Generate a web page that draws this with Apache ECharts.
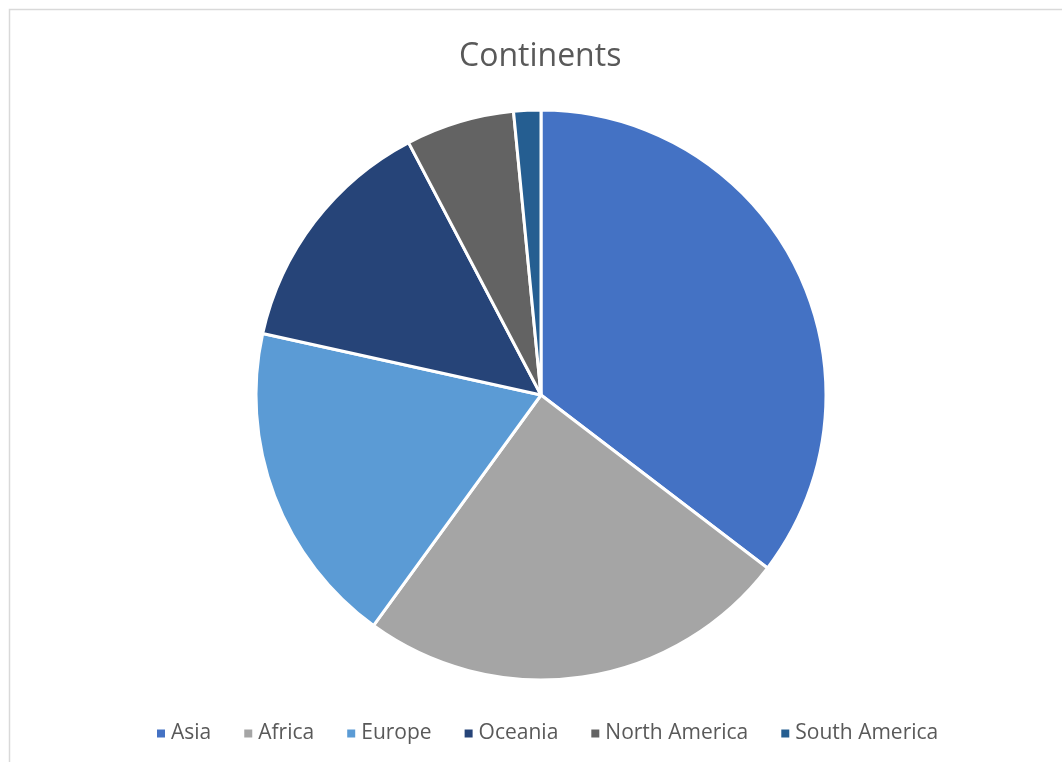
<!DOCTYPE html>
<html>
<head>
<meta charset="utf-8">
<script src="https://cdn.jsdelivr.net/npm/echarts@6/dist/echarts.min.js"></script>
<style>
html,body{margin:0;padding:0;background:#fff;}
#c{width:1062px;height:762px;}
</style>
</head>
<body>
<div id="c"></div>
<script>
var categories = ['Asia', 'Africa', 'Europe', 'Oceania', 'North America', 'South America'];
var values = [23, 16, 12, 9, 4, 1];
var colors = ['#4472C4', '#A5A5A5', '#5B9BD5', '#264478', '#636363', '#255E91'];

var chart = echarts.init(document.getElementById('c'));
chart.setOption({
  animation: false,
  backgroundColor: '#fff',
  title: {
    text: 'Continents',
    left: 459,
    top: 41,
    padding: 0,
    textStyle: {fontFamily: 'Open Sans', fontSize: 32, fontWeight: 'normal', color: '#595959'}
  },
  legend: {
    bottom: 18,
    left: 155,
    padding: 0,
    itemWidth: 10,
    itemHeight: 10,
    itemGap: 31,
    icon: 'rect',
    textStyle: {fontFamily: 'Open Sans', fontSize: 21, color: '#595959'},
    data: categories
  },
  graphic: [{
    type: 'rect',
    shape: {x: 9.5, y: 9.5, width: 1100, height: 800},
    style: {fill: 'none', stroke: '#D9D9D9', lineWidth: 1.5},
    silent: true
  }],
  series: [{
    type: 'pie',
    center: [541, 395],
    radius: 285,
    startAngle: 90,
    clockwise: true,
    label: {show: false},
    labelLine: {show: false},
    itemStyle: {borderColor: '#fff', borderWidth: 3},
    data: categories.map(function (c, i) {
      return {name: c, value: values[i], itemStyle: {color: colors[i]}};
    })
  }]
});
</script>
</body>
</html>
